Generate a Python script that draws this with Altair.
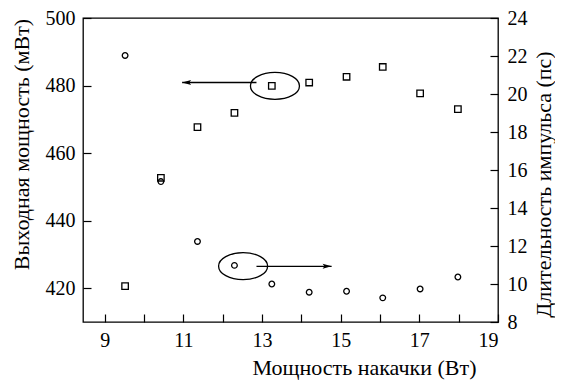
import altair as alt
import pandas as pd

# ---- data ----
pump_power = [9.52, 10.43, 11.36, 12.30, 13.25, 14.20, 15.15, 16.07, 17.02, 17.98]   # Вт
output_power = [420.6, 452.7, 467.7, 471.9, 479.9, 480.9, 482.6, 485.5, 477.7, 473.0]  # мВт
pulse_duration = [22.03, 15.39, 12.24, 10.98, 10.0, 9.57, 9.62, 9.27, 9.74, 10.37]   # пс

x_ticks = list(range(9, 20))
left_ticks = [420, 440, 460, 480, 500]
right_ticks = [8, 10, 12, 14, 16, 18, 20, 22, 24]

# annotation: ellipse + arrow pointing to the axis of each series
ell_power_x, ell_power_y = [13.33], [479.9]
arr_power_x, arr_power_x2, arr_power_y = [12.86], [10.97], [480.9]
ell_pulse_x, ell_pulse_y = [12.52], [10.94]
arr_pulse_x, arr_pulse_x2, arr_pulse_y = [12.86], [14.77], [10.93]

FONT = "Liberation Serif, Times New Roman, DejaVu Serif, serif"

df_sq = pd.DataFrame({"x": pump_power, "y": output_power})
df_ci = pd.DataFrame({"x": pump_power, "y": pulse_duration})
df_ell_p = pd.DataFrame({"x": ell_power_x, "y": ell_power_y})
df_arr_p = pd.DataFrame({"x": arr_power_x, "x2": arr_power_x2, "y": arr_power_y})
df_ell_d = pd.DataFrame({"x": ell_pulse_x, "y": ell_pulse_y})
df_arr_d = pd.DataFrame({"x": arr_pulse_x, "x2": arr_pulse_x2, "y": arr_pulse_y})

X_SCALE = alt.Scale(domain=[8.45, 19], nice=False, zero=False)

x_enc = alt.X(
    "x:Q",
    scale=X_SCALE,
    axis=alt.Axis(
        values=x_ticks,
        labelExpr="datum.value % 2 == 1 ? datum.label : ''",
        title="Мощность накачки (Вт)",
        titleX=281, titleY=60, titleAlign="center", titleBaseline="alphabetic",
        labelPadding=8,
    ),
)

def y_left():
    return alt.Y(
        "y:Q",
        scale=alt.Scale(domain=[410, 500], nice=False, zero=False),
        axis=alt.Axis(
            orient="left", values=left_ticks, title="Выходная мощность (мВт)",
            titleX=-63, titleY=126, titleAngle=270, titleAlign="center",
            titleBaseline="alphabetic", labelPadding=8,
        ),
    )

def y_right():
    return alt.Y(
        "y:Q",
        scale=alt.Scale(domain=[8, 24], nice=False, zero=False),
        axis=alt.Axis(
            orient="right", values=right_ticks, title="Длительность импульса (пс)",
            titleX=60, titleY=166, titleAngle=270, titleAlign="center",
            titleBaseline="alphabetic", labelPadding=9,
        ),
    )

ELLIPSE = "M-1,0A1,0.55,0,1,0,1,0A1,0.55,0,1,0,-1,0Z"
HEAD_LEFT = "M0,0L2,-0.55L1.6,0L2,0.55Z"
HEAD_RIGHT = "M0,0L-2,-0.55L-1.6,0L-2,0.55Z"

squares = alt.Chart(df_sq).mark_point(
    shape="square", filled=False, color="black", size=42, strokeWidth=1.3, opacity=1
).encode(x=x_enc, y=y_left())
ell_p = alt.Chart(df_ell_p).mark_point(
    shape=ELLIPSE, filled=False, color="black", size=2401, strokeWidth=1.3, opacity=1
).encode(x=x_enc, y=y_left())
arr_p = alt.Chart(df_arr_p).mark_rule(color="black", strokeWidth=1.3).encode(
    x=x_enc, x2="x2:Q", y=y_left())
head_p = alt.Chart(df_arr_p).mark_point(
    shape=HEAD_LEFT, filled=True, color="black", size=81, opacity=1, strokeWidth=0
).encode(x=alt.X("x2:Q", scale=X_SCALE), y=y_left())

circles = alt.Chart(df_ci).mark_point(
    shape="circle", filled=False, color="black", size=32, strokeWidth=1.3, opacity=1
).encode(x=x_enc, y=y_right())
ell_d = alt.Chart(df_ell_d).mark_point(
    shape=ELLIPSE, filled=False, color="black", size=2401, strokeWidth=1.3, opacity=1
).encode(x=x_enc, y=y_right())
arr_d = alt.Chart(df_arr_d).mark_rule(color="black", strokeWidth=1.3).encode(
    x=x_enc, x2="x2:Q", y=y_right())
head_d = alt.Chart(df_arr_d).mark_point(
    shape=HEAD_RIGHT, filled=True, color="black", size=81, opacity=1, strokeWidth=0
).encode(x=alt.X("x2:Q", scale=X_SCALE), y=y_right())

left_layer = alt.layer(squares, ell_p, arr_p, head_p)
right_layer = alt.layer(circles, ell_d, arr_d, head_d)

chart = (
    alt.layer(left_layer, right_layer)
    .resolve_scale(y="independent")
    .properties(
        width=415, height=304,
        autosize=alt.AutoSizeParams(type="none"),
        padding={"left": 75, "top": 10, "right": 57, "bottom": 58},
        background="white",
    )
    .configure_view(stroke="black", strokeWidth=1.3)
    .configure_axis(
        domain=False, offset=-8, tickSize=8, tickWidth=1.2, tickColor="black",
        grid=False, labelFont=FONT, labelFontSize=20, labelColor="black",
        titleFont=FONT, titleFontSize=22, titleFontWeight="normal", titleColor="black",
    )
)

chart.save("out.html", embed_options={"renderer": "svg", "actions": False})
